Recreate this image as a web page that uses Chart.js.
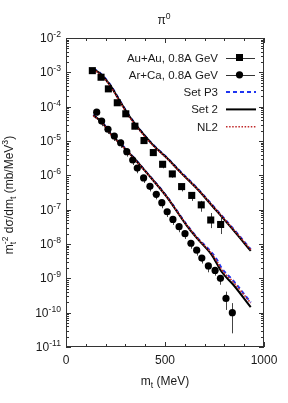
<!DOCTYPE html>
<html lang="en">
<head>
    <meta charset="UTF-8">
    <title>pi0 mt spectra</title>
    <style>
        body { margin: 0; background: #fff; }
        #wrap { width: 288px; height: 403px; }
    </style>
    <script src="https://cdn.jsdelivr.net/npm/chart.js"></script>
</head>
<body>
    <div id="wrap"><canvas id="chart" width="288" height="403"></canvas></div>

    <script>
        // data points, Au+Au 0.8A GeV
        const auMt  = [133, 177, 214, 259, 302, 348, 394, 441, 488, 537, 584, 635, 683, 731, 781];
        const auVal = [1.12e-3, 7.2e-4, 3.3e-4, 1.3e-4, 6.2e-5, 2.7e-5, 1.03e-5, 4.6e-6, 2.1e-6, 1.1e-6, 4.7e-7, 2.6e-7, 1.38e-7, 5.0e-8, 3.7e-8];
        const auLo  = [0.95e-3, 6.0e-4, 2.8e-4, 1.1e-4, 5.2e-5, 2.2e-5, 8.5e-6, 3.7e-6, 1.6e-6, 8.5e-7, 3.4e-7, 1.8e-7, 8.7e-8, 2.9e-8, 1.95e-8];
        const auHi  = [1.3e-3, 8.5e-4, 3.9e-4, 1.5e-4, 7.2e-5, 3.2e-5, 1.2e-5, 5.4e-6, 2.5e-6, 1.3e-6, 5.6e-7, 3.2e-7, 1.8e-7, 8.0e-8, 5.8e-8];

        // data points, Ar+Ca 0.8A GeV
        const arMt  = [155, 180, 212, 244, 276, 307, 337, 360, 392, 424, 456, 484, 511, 540, 571, 601, 631, 660, 686, 719, 753, 780, 808, 840];
        const arVal = [6.9e-5, 3.8e-5, 2.2e-5, 1.4e-5, 8.9e-6, 4.9e-6, 2.8e-6, 1.63e-6, 8.4e-7, 4.8e-7, 2.8e-7, 1.6e-7, 8.7e-8, 5.2e-8, 3.2e-8, 2.0e-8, 1.05e-8, 6.6e-9, 3.9e-9, 2.3e-9, 1.7e-9, 1.0e-9, 2.6e-10, 1.0e-10];
        const arLo  = [5.5e-5, 2.7e-5, 1.6e-5, 1.0e-5, 6.3e-6, 3.5e-6, 2.0e-6, 1.15e-6, 6.0e-7, 3.4e-7, 2.0e-7, 1.1e-7, 6.1e-8, 3.6e-8, 2.2e-8, 1.4e-8, 7.3e-9, 4.6e-9, 2.7e-9, 1.5e-9, 1.2e-9, 6.5e-10, 1.2e-10, 2.5e-11];
        const arHi  = [8.3e-5, 4.6e-5, 2.7e-5, 1.7e-5, 1.1e-5, 6.0e-6, 3.4e-6, 2.0e-6, 1.0e-6, 5.8e-7, 3.4e-7, 1.95e-7, 1.05e-7, 6.3e-8, 3.9e-8, 2.4e-8, 1.3e-8, 8.0e-9, 4.7e-9, 2.8e-9, 2.1e-9, 1.25e-9, 4.1e-10, 1.9e-10];

        // model curves
        const auCurveMt = [138, 172, 222, 264, 315, 373, 440, 510, 580, 660, 740, 840, 933];
        const auSet2 = [1.26e-3, 9.3e-4, 4.3e-4, 1.74e-4, 5.8e-5, 2.1e-5, 7.6e-6, 3.2e-6, 1.2e-6, 4.2e-7, 1.26e-7, 2.75e-8, 6.3e-9];
        const auP3   = [1.28e-3, 9.6e-4, 4.5e-4, 1.8e-4, 6.0e-5, 2.15e-5, 7.8e-6, 3.3e-6, 1.25e-6, 4.4e-7, 1.35e-7, 3.0e-8, 7.0e-9];
        const auNL2  = [1.2e-3, 8.8e-4, 4.1e-4, 1.65e-4, 5.5e-5, 2.0e-5, 7.3e-6, 3.1e-6, 1.18e-6, 4.2e-7, 1.3e-7, 2.9e-8, 6.8e-9];

        const arCurveMt = [138, 180, 231, 281, 340, 420, 508, 609, 660, 736, 761, 786, 845, 933];
        const arSet2 = [5.6e-5, 3.6e-5, 1.48e-5, 7.6e-6, 3.3e-6, 9.8e-7, 2.4e-7, 3.5e-8, 1.5e-8, 4.8e-9, 2.75e-9, 1.55e-9, 6.5e-10, 1.45e-10];
        const arP3   = [5.8e-5, 3.7e-5, 1.55e-5, 7.9e-6, 3.4e-6, 1.0e-6, 2.5e-7, 3.7e-8, 1.6e-8, 5.6e-9, 3.6e-9, 2.0e-9, 8.5e-10, 2.0e-10];
        const arNL2  = [5.4e-5, 3.5e-5, 1.45e-5, 7.5e-6, 3.2e-6, 9.7e-7, 2.4e-7, 3.6e-8, 1.55e-8, 5.2e-9, 3.2e-9, 1.8e-9, 7.8e-10, 1.9e-10];

        // axis ticks
        const xTicks = [0, 500, 1000];
        const yExponents = [-2, -3, -4, -5, -6, -7, -8, -9, -10, -11];

        const FONT = "'Liberation Sans', Arial, sans-serif";
        const BLUE = '#1f35f0';
        const RED = '#c0282a';

        function pts(xs, ys) {
            return xs.map((x, i) => ({ x: x, y: ys[i] }));
        }

        function curve(xs, ys, color, width, dash, order) {
            return {
                data: pts(xs, ys),
                showLine: true,
                borderColor: color,
                borderWidth: width,
                borderDash: dash,
                pointRadius: 0,
                cubicInterpolationMode: 'monotone',
                order: order
            };
        }

        // draws text pieces with sub/superscripts, returns width
        function richText(ctx, parts, x, y, size, measureOnly) {
            let cx = x;
            parts.forEach(p => {
                if (p.k === 'n') {
                    ctx.font = size + 'px ' + FONT;
                    if (!measureOnly) ctx.fillText(p.t, cx, y);
                    cx += ctx.measureText(p.t).width;
                } else {
                    const s = size * 0.72;
                    ctx.font = s + 'px ' + FONT;
                    const off = p.k === 'sup' ? -size * 0.42 : size * 0.25;
                    if (!measureOnly) ctx.fillText(p.t, cx, y + off);
                    let w = ctx.measureText(p.t).width;
                    if (p.k2) {
                        if (!measureOnly) ctx.fillText(p.k2, cx, y - size * 0.42);
                        w = Math.max(w, ctx.measureText(p.k2).width);
                    }
                    cx += w;
                }
            });
            return cx - x;
        }

        const errorBars = {
            id: 'errorBars',
            beforeDatasetsDraw(chart) {
                const ctx = chart.ctx, xs = chart.scales.x, ys = chart.scales.y;
                ctx.save();
                ctx.strokeStyle = '#444';
                ctx.lineWidth = 1;
                const draw = (mt, lo, hi) => {
                    mt.forEach((m, i) => {
                        const px = Math.round(xs.getPixelForValue(m)) + 0.5;
                        ctx.beginPath();
                        ctx.moveTo(px, ys.getPixelForValue(lo[i]));
                        ctx.lineTo(px, ys.getPixelForValue(hi[i]));
                        ctx.stroke();
                    });
                };
                draw(auMt, auLo, auHi);
                draw(arMt, arLo, arHi);
                ctx.restore();
            }
        };

        const decorations = {
            id: 'decorations',
            afterDraw(chart) {
                const ctx = chart.ctx, a = chart.chartArea;
                const xs = chart.scales.x, ys = chart.scales.y;
                ctx.save();

                // frame + ticks (inward, mirrored)
                ctx.strokeStyle = '#333';
                ctx.lineWidth = 1;
                ctx.strokeRect(a.left + 0.5, a.top + 0.5, a.right - a.left - 1, a.bottom - a.top - 1);
                ctx.beginPath();
                for (let v = 0; v <= 1000; v += 100) {
                    const px = Math.round(xs.getPixelForValue(v)) + 0.5;
                    const len = v % 500 === 0 ? 5 : 3;
                    ctx.moveTo(px, a.bottom); ctx.lineTo(px, a.bottom - len);
                    ctx.moveTo(px, a.top); ctx.lineTo(px, a.top + len);
                }
                yExponents.forEach(e => {
                    for (let m = 1; m <= 9; m++) {
                        const v = m * Math.pow(10, e);
                        if (v > 1e-2 * 1.0001) continue;
                        const py = Math.round(ys.getPixelForValue(v)) + 0.5;
                        const len = m === 1 ? 5 : 3;
                        ctx.moveTo(a.left, py); ctx.lineTo(a.left + len, py);
                        ctx.moveTo(a.right, py); ctx.lineTo(a.right - len, py);
                    }
                });
                ctx.stroke();

                ctx.fillStyle = '#1a1a1a';
                ctx.textBaseline = 'alphabetic';

                // y tick labels
                yExponents.forEach(e => {
                    const py = ys.getPixelForValue(Math.pow(10, e));
                    const parts = [{ t: '10', k: 'n' }, { t: String(e), k: 'sup' }];
                    const w = richText(ctx, parts, 0, 0, 12, true);
                    richText(ctx, parts, 61 - w, py + 4, 12, false);
                });

                // x tick labels
                ctx.font = '12px ' + FONT;
                ctx.textAlign = 'center';
                xTicks.forEach(v => ctx.fillText(String(v), xs.getPixelForValue(v), 364));
                ctx.textAlign = 'left';

                // title
                const tParts = [{ t: 'π', k: 'n' }, { t: '0', k: 'sup' }];
                const tw = richText(ctx, tParts, 0, 0, 12, true);
                richText(ctx, tParts, 164 - tw / 2, 24, 12, false);

                // x axis title
                const xParts = [{ t: 'm', k: 'n' }, { t: 't', k: 'sub' }, { t: ' (MeV)', k: 'n' }];
                const xw = richText(ctx, xParts, 0, 0, 12, true);
                richText(ctx, xParts, 165 - xw / 2, 385, 12, false);

                // y axis title
                const yParts = [
                    { t: 'm', k: 'n' }, { t: 't', k: 'sub', k2: '-2' },
                    { t: ' dσ/dm', k: 'n' }, { t: 't', k: 'sub' },
                    { t: ' (mb/MeV', k: 'n' }, { t: '3', k: 'sup' }, { t: ')', k: 'n' }
                ];
                const yw = richText(ctx, yParts, 0, 0, 12, true);
                ctx.save();
                ctx.translate(13, 195);
                ctx.rotate(-Math.PI / 2);
                richText(ctx, yParts, -yw / 2, 0, 12, false);
                ctx.restore();

                // legend
                const rows = [
                    { label: 'Au+Au, 0.8A GeV', kind: 'square' },
                    { label: 'Ar+Ca, 0.8A GeV', kind: 'circle' },
                    { label: 'Set P3', kind: 'p3' },
                    { label: 'Set 2', kind: 'set2' },
                    { label: 'NL2', kind: 'nl2' }
                ];
                ctx.font = '11.5px ' + FONT;
                ctx.textAlign = 'right';
                rows.forEach((r, i) => {
                    const y = 57.5 + i * 17.3;
                    ctx.fillStyle = '#1a1a1a';
                    ctx.fillText(r.label, 218, y + 4);
                    ctx.beginPath();
                    if (r.kind === 'square' || r.kind === 'circle') {
                        ctx.strokeStyle = '#333'; ctx.lineWidth = 1; ctx.setLineDash([]);
                        ctx.moveTo(226, Math.round(y) + 0.5); ctx.lineTo(255, Math.round(y) + 0.5);
                        ctx.stroke();
                        ctx.fillStyle = '#000';
                        if (r.kind === 'square') {
                            ctx.fillRect(236, y - 3.5, 7, 7);
                        } else {
                            ctx.beginPath(); ctx.arc(239.5, y, 3.6, 0, Math.PI * 2); ctx.fill();
                        }
                    } else {
                        if (r.kind === 'p3') { ctx.strokeStyle = BLUE; ctx.lineWidth = 2; ctx.setLineDash([4, 3]); }
                        if (r.kind === 'set2') { ctx.strokeStyle = '#000'; ctx.lineWidth = 2; ctx.setLineDash([]); }
                        if (r.kind === 'nl2') { ctx.strokeStyle = RED; ctx.lineWidth = 1.6; ctx.setLineDash([1.5, 1.6]); }
                        ctx.moveTo(226, y); ctx.lineTo(256, y);
                        ctx.stroke();
                        ctx.setLineDash([]);
                    }
                });
                ctx.restore();
            }
        };

        new Chart(document.getElementById('chart'), {
            type: 'scatter',
            data: {
                datasets: [
                    { data: pts(auMt, auVal), pointStyle: 'rect', pointRadius: 5, pointHoverRadius: 5,
                      backgroundColor: '#000', borderColor: '#000', borderWidth: 0, order: 0 },
                    { data: pts(arMt, arVal), pointStyle: 'circle', pointRadius: 3.6, pointHoverRadius: 3.6,
                      backgroundColor: '#000', borderColor: '#000', borderWidth: 0, order: 0 },
                    curve(auCurveMt, auNL2, RED, 1.6, [1.5, 1.6], 1),
                    curve(arCurveMt, arNL2, RED, 1.6, [1.5, 1.6], 1),
                    curve(auCurveMt, auSet2, '#000', 2, [], 2),
                    curve(arCurveMt, arSet2, '#000', 2, [], 2),
                    curve(auCurveMt, auP3, BLUE, 2, [4, 3], 3),
                    curve(arCurveMt, arP3, BLUE, 2, [4, 3], 3)
                ]
            },
            options: {
                responsive: false,
                animation: false,
                devicePixelRatio: 1,
                layout: { padding: { left: 0, right: 24, top: 38, bottom: 0 } },
                plugins: { legend: { display: false }, title: { display: false }, tooltip: { enabled: false } },
                scales: {
                    x: {
                        type: 'linear', min: 0, max: 1000,
                        ticks: { display: false },
                        grid: { display: false },
                        border: { display: false },
                        afterFit(s) { s.height = 56; }
                    },
                    y: {
                        type: 'logarithmic', min: 1e-11, max: 1e-2,
                        ticks: { display: false },
                        grid: { display: false },
                        border: { display: false },
                        afterFit(s) { s.width = 66; }
                    }
                }
            },
            plugins: [errorBars, decorations]
        });
    </script>
</body>
</html>
